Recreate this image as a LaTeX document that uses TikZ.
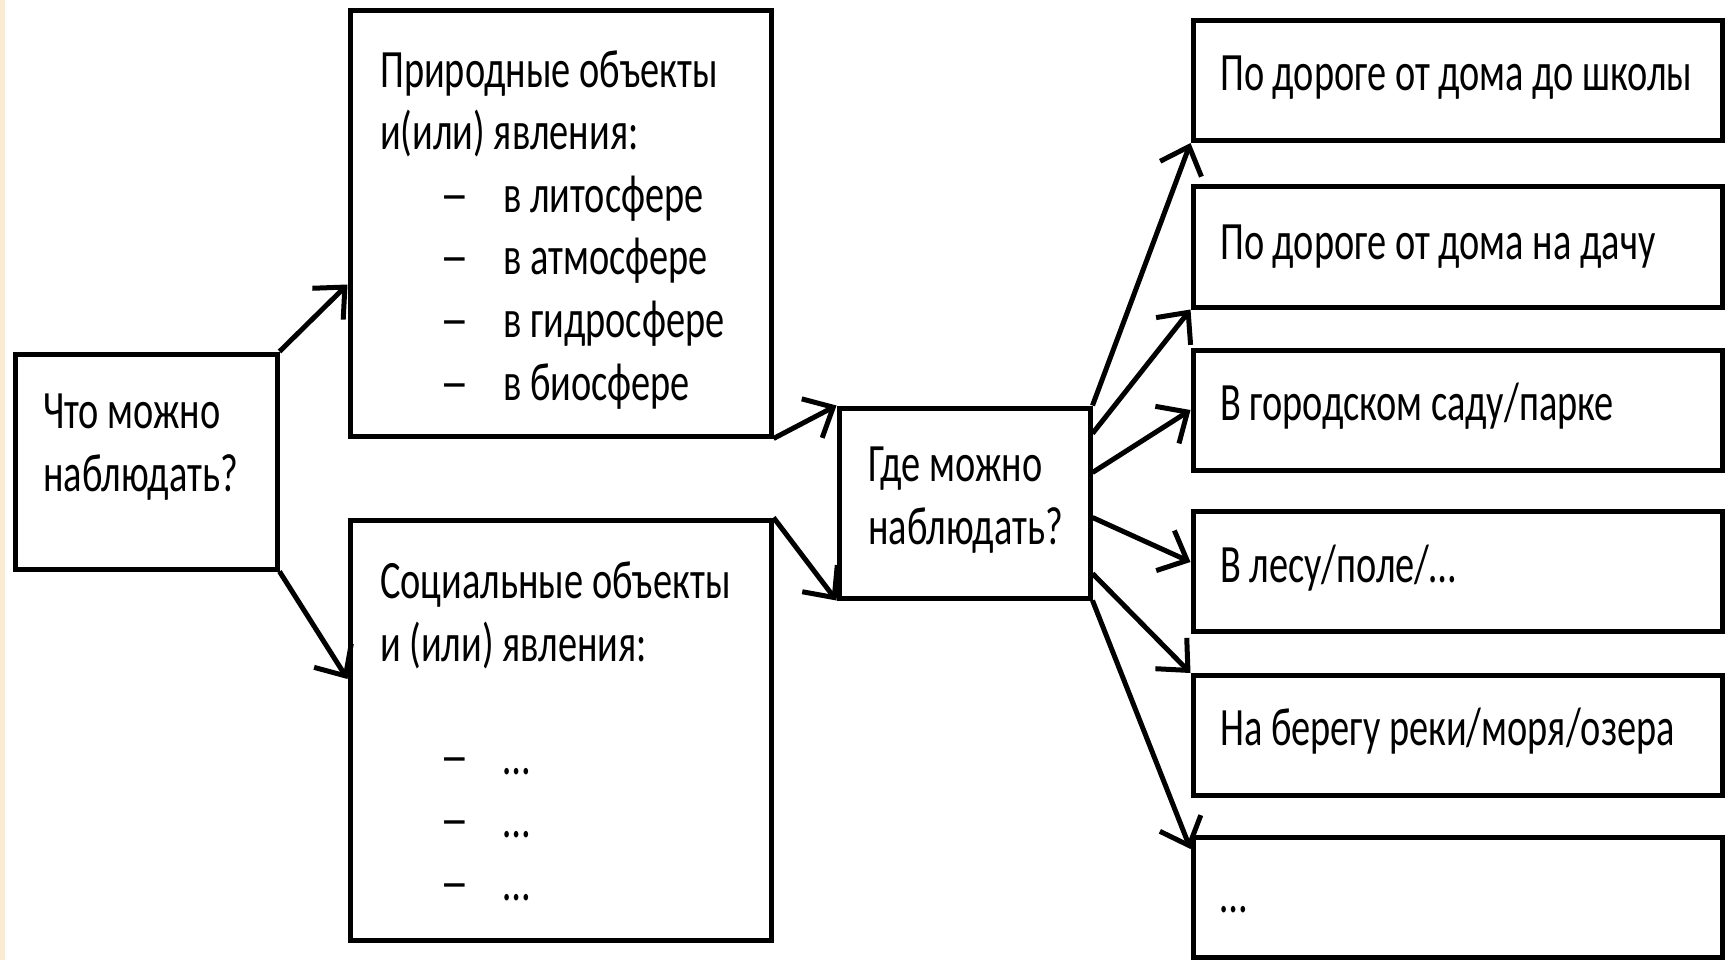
\documentclass[tikz,border=0pt]{standalone}
\usepackage{fontspec}
\setmainfont{Carlito}[FakeStretch=0.71]
\usetikzlibrary{arrows.meta}

\definecolor{stripe}{HTML}{FAEBD3}
\newcommand{\dashitem}[1]{\hspace*{60pt}\makebox[63pt][l]{\scalebox{1.5}[1]{–}}#1}

\begin{document}
\begin{tikzpicture}[x=1pt,y=-1pt,
    box/.style={draw,line width=5pt,inner sep=0pt},
    rbox/.style={box,minimum width=529pt,minimum height=120pt},
    txt/.style={anchor=base west,inner sep=0pt,align=left,font=\fontsize{54}{62.6}\selectfont},
    arr/.style={line width=5pt,-{Straight Barb[length=24pt,width=44pt]}}]

    \useasboundingbox (0,0) rectangle (1731,960);
    \fill[stripe] (0,0) rectangle (5,960);

    % boxes
    \node[box,minimum width=262pt,minimum height=215pt] (ask) at (146,461.5) {};
    \node[box,minimum width=421pt,minimum height=425pt] (nat) at (560.5,223.5) {};
    \node[box,minimum width=421pt,minimum height=420pt] (soc) at (560.5,730) {};
    \node[box,minimum width=251pt,minimum height=190pt] (where) at (964.5,503) {};

    \node[rbox] (road) at (1457.5,80.5) {};
    \node[rbox] (dacha) at (1457.5,247) {};
    \node[rbox] (park) at (1457.5,410) {};
    \node[rbox] (forest) at (1457.5,571) {};
    \node[rbox] (shore) at (1457.5,735.5) {};
    \node[rbox] (other) at (1457.5,897.5) {};

    % texts (placed by the baseline of their last line)
    \node[txt] (askt) at (43,491) {Что можно\\наблюдать?};
    \node[txt] (natt) at (380,400) {Природные объекты\\и(или) явления:\\
        \dashitem{в литосфере}\\\dashitem{в атмосфере}\\
        \dashitem{в гидросфере}\\\dashitem{в биосфере}};
    \node[txt] (soct) at (380,900) {Социальные объекты\\и (или) явления:\\[51pt]
        \dashitem{…}\\\dashitem{…}\\\dashitem{…}};
    \node[txt] (wheret) at (868,544) {Где можно\\наблюдать?};

    \node[txt] (roadt) at (1220,91) {По дороге от дома до школы};
    \node[txt] (dachat) at (1220,259) {По дороге от дома на дачу};
    \node[txt] (parkt) at (1220,420) {В городском саду/парке};
    \node[txt] (forestt) at (1220,582) {В лесу/поле/…};
    \node[txt] (shoret) at (1220,745) {На берегу реки/моря/озера};
    \node[txt] (othert) at (1220,912) {…};

    % arrows
    \draw[arr] (ask.north east) -- ([yshift=-61pt]nat.west);
    \draw[arr] (ask.south east) -- ([yshift=51pt]soc.west);
    \draw[arr] (nat.south east) -- (where.north west);
    \draw[arr] (soc.north east) -- (where.south west);

    \draw[arr] (where.north east) -- (road.south west);
    \draw[arr] ([yshift=-28pt]where.north east) -- (dacha.south west);
    \draw[arr] ([yshift=-67pt]where.north east) -- (park.west);
    \draw[arr] ([yshift=-112pt]where.north east) -- ([yshift=9pt]forest.west);
    \draw[arr] ([yshift=27pt]where.south east) -- (shore.north west);
    \draw[arr] (where.south east) -- ([yshift=-14pt]other.north west);
\end{tikzpicture}
\end{document}
